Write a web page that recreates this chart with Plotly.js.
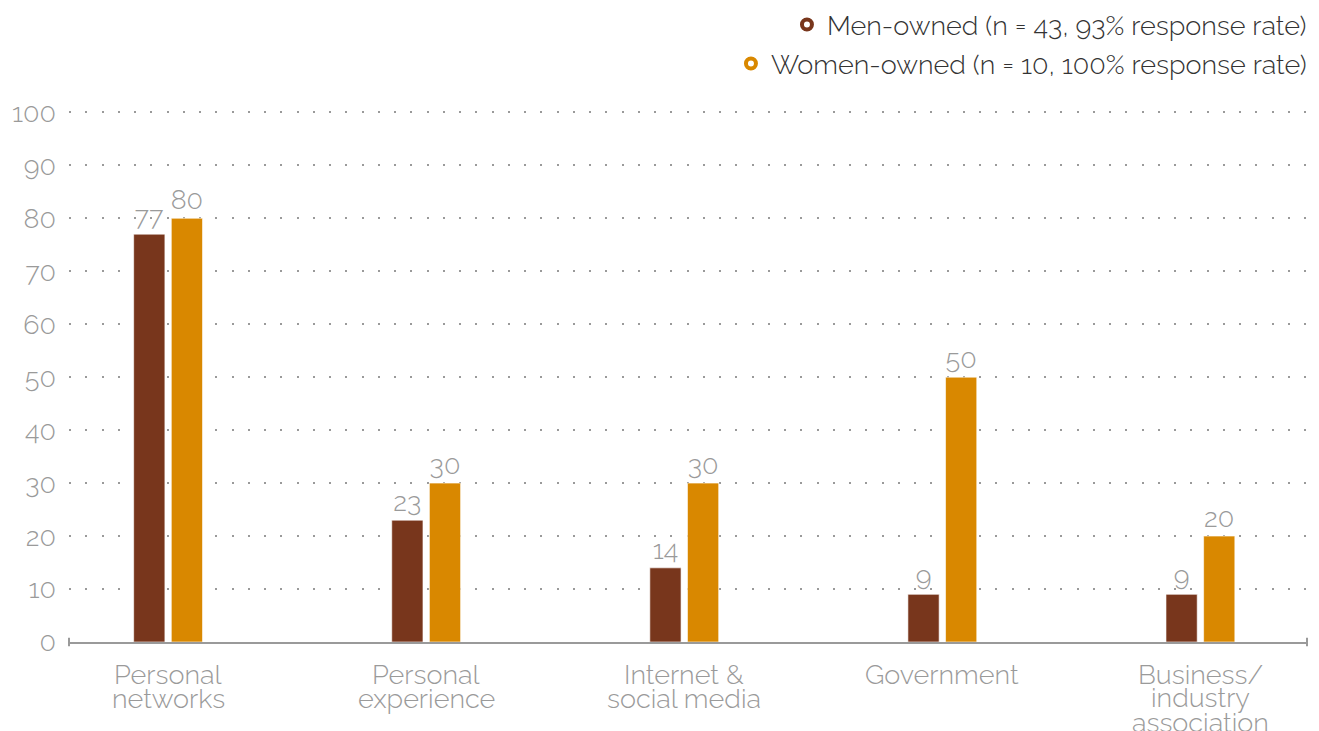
<!DOCTYPE html>
<html>
<head>
<meta charset="utf-8">
<script src="https://cdn.plot.ly/plotly-3.0.1.min.js"></script>
<style>html,body{margin:0;padding:0;background:#fff}#chart{width:1319px;height:731px}</style>
</head>
<body>
<div id="chart"></div>
<script>
const categories = ['Personal<br>networks', 'Personal<br>experience', 'Internet &<br>social media', 'Government', 'Business/<br>industry<br>association'];
const menValues = [77, 23, 14, 9, 9];
const womenValues = [80, 30, 30, 50, 20];
const seriesNames = ['Men-owned (n = 43, 93% response rate)', 'Women-owned (n = 10, 100% response rate)'];
const seriesColors = ['#78361c', '#d98800'];
const yTicks = [0, 10, 20, 30, 40, 50, 60, 70, 80, 90, 100];

const FONT = 'Raleway, Lato, "Open Sans", sans-serif';
const GRAY = '#9a9a9a';
const FS = 27;

const barCommon = {
  type: 'bar',
  x: categories,
  width: 0.121,
  textposition: 'outside',
  texttemplate: '%{y}',
  textfont: {family: FONT, size: FS, color: GRAY, weight: 300},
  cliponaxis: false,
  constraintext: 'none',
  showlegend: false,
  hoverinfo: 'skip'
};

const traces = [
  Object.assign({}, barCommon, {
    y: menValues, name: seriesNames[0], offset: -0.133,
    marker: {color: seriesColors[0], line: {color: 'rgba(255,255,255,0.6)', width: 1}}
  }),
  Object.assign({}, barCommon, {
    y: womenValues, name: seriesNames[1], offset: 0.0128,
    marker: {color: seriesColors[1], line: {color: 'rgba(255,255,255,0.6)', width: 1}}
  }),
  {type: 'scatter', mode: 'markers', x: [categories[0]], y: [null], name: seriesNames[0], legend: 'legend',
   marker: {symbol: 'circle-open', size: 10, color: seriesColors[0], line: {width: 4, color: seriesColors[0]}}},
  {type: 'scatter', mode: 'markers', x: [categories[0]], y: [null], name: seriesNames[1], legend: 'legend2',
   marker: {symbol: 'circle-open', size: 10, color: seriesColors[1], line: {width: 4, color: seriesColors[1]}}}
];

const annotations = [];
categories.forEach(function (c) {
  c.split('<br>').forEach(function (line, i) {
    annotations.push({
      x: c, xref: 'x', y: 0, yref: 'paper', yanchor: 'middle', xanchor: 'center',
      yshift: -(32 + 24 * i), text: line, showarrow: false,
      font: {family: FONT, size: FS, color: GRAY, weight: 300}
    });
  });
});

const legendFont = {family: FONT, size: FS, color: '#333333', weight: 300};

const layout = {
  width: 1319, height: 731,
  margin: {l: 69, r: 12, t: 107, b: 89, autoexpand: false},
  paper_bgcolor: '#ffffff', plot_bgcolor: '#ffffff',
  font: {family: FONT},
  barmode: 'group',
  xaxis: {
    type: 'category', range: [-0.3836, 4.4134], showticklabels: false,
    showgrid: false, zeroline: false, showline: true, linecolor: GRAY, linewidth: 2,
    ticks: '', fixedrange: true
  },
  yaxis: {
    range: [0, 101], tickvals: yTicks, showline: false, zeroline: false,
    showgrid: true, gridcolor: GRAY, gridwidth: 2, griddash: '2px,14.25px',
    ticks: '', ticklabelstandoff: 12,
    tickfont: {family: FONT, size: FS, color: GRAY, weight: 300}, fixedrange: true
  },
  legend: {x: 1.004, xanchor: 'right', y: 1.1533, yanchor: 'middle', font: legendFont, bgcolor: 'rgba(0,0,0,0)', borderwidth: 0},
  legend2: {x: 1.004, xanchor: 'right', y: 1.0804, yanchor: 'middle', font: legendFont, bgcolor: 'rgba(0,0,0,0)', borderwidth: 0},
  annotations: annotations,
  shapes: [
    {type: 'line', xref: 'paper', yref: 'paper', x0: 0, x1: 0, y0: -0.008, y1: 0.008, line: {color: GRAY, width: 2}},
    {type: 'line', xref: 'paper', yref: 'paper', x0: 1, x1: 1, y0: -0.008, y1: 0.008, line: {color: GRAY, width: 2}}
  ]
};

Plotly.newPlot('chart', traces, layout, {displayModeBar: false, staticPlot: true});
</script>
</body>
</html>
